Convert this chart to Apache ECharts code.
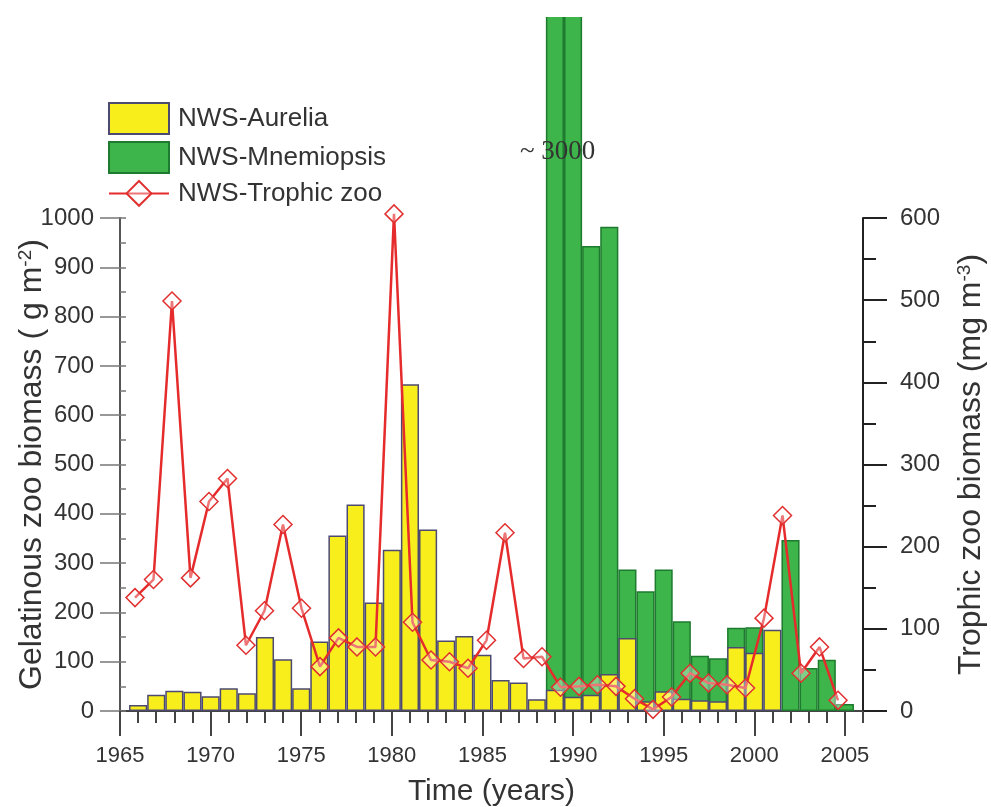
<!DOCTYPE html>
<html>
<head>
<meta charset="utf-8">
<script src="https://cdn.jsdelivr.net/npm/echarts@6/dist/echarts.min.js"></script>
<style>
html,body{margin:0;padding:0;background:#fff;}
#c{position:absolute;left:0;top:17px;width:991px;height:790px;}
</style>
</head>
<body>
<div id="c"></div>
<script>
// ---- data ----
const years = [1966,1967,1968,1969,1970,1971,1972,1973,1974,1975,1976,1977,1978,1979,1980,
  1981,1982,1983,1984,1985,1986,1987,1988,1989,1990,1991,1992,1993,1994,1995,1996,1997,1998,1999,2000,
  2001,2002,2003,2004,2005];
// NWS-Aurelia (g m-2)
const aurelia = [12,33,41,39,30,46,36,150,105,46,141,356,419,220,327,
  663,368,143,152,114,63,58,24,43,29,33,75,148,20,40,25,22,20,130,118,
  165,null,null,null,null];
// NWS-Mnemiopsis (g m-2); 1989-1990 are off the scale (~3000)
const mnemiopsis = [null,null,null,null,null,null,null,null,null,null,null,null,null,null,null,
  null,null,null,null,null,null,null,null,3000,3000,943,982,287,243,287,182,112,107,169,170,
  null,347,87,104,14];
// NWS-Trophic zoo (mg m-3)
const trophicYears = [1966,1967,1968,1969,1970,1971,1972,1973,1974,1975,1976,1977,1978,1979,1980,
  1981,1982,1983,1984,1985,1986,1987,1988,1989,1990,1991,1992,1993,1994,1995,1996,1997,1998,1999,2000,
  2001,2002,2003,2004];
const trophic = [138,160,499,162,255,283,80,122,227,125,54,89,78,78,605,
  108,62,60,52,86,217,64,66,29,30,32,30,15,2,17,46,34,32,28,113,
  238,46,78,13];
const leftTicks = {min:0, max:1000, step:100};
const rightTicks = {min:0, max:600, step:100};
const xTicks = {min:1965, max:2006, step:5};

const FONT = '"Liberation Sans", Arial, sans-serif';
const chart = echarts.init(document.getElementById('c'));
const plain = v => String(v);
const xLabelStyle = {fontSize:22, color:'#333', fontFamily:FONT, formatter:plain};
const yLabelStyle = {fontSize:24, color:'#333', fontFamily:FONT, formatter:plain};
const nameStyle = {fontSize:30, color:'#333', fontFamily:FONT};
const vNameStyle = {fontSize:32, color:'#333', fontFamily:FONT,
  rich:{sup:{fontSize:19, color:'#333', fontFamily:FONT, verticalAlign:'top'}}};

chart.setOption({
  animation:false,
  legend:{
    orient:'vertical', left:103, top:80,
    itemWidth:60, itemHeight:31, itemGap:6,
    textStyle:{fontSize:26, color:'#333', fontFamily:FONT, padding:[0,0,0,4]},
    data:[{name:'NWS-Aurelia', icon:'rect'},{name:'NWS-Mnemiopsis', icon:'rect'},{name:'NWS-Trophic zoo'}]
  },
  grid:{left:120, right:128, top:201, bottom:96, containLabel:false, outerBoundsMode:'none'},
  xAxis:[
    {type:'value', min:xTicks.min, max:xTicks.max, interval:xTicks.step, position:'bottom',
     axisLine:{lineStyle:{color:'#444', width:2}},
     axisTick:{length:25, lineStyle:{color:'#444', width:2}},
     axisLabel:{margin:34, showMaxLabel:false, ...xLabelStyle},
     splitLine:{show:false},
     name:'Time (years)', nameLocation:'middle', nameGap:66, nameTextStyle:nameStyle},
    {type:'value', min:xTicks.min, max:xTicks.max, interval:1, position:'bottom',
     axisLine:{show:false},
     axisTick:{length:12, lineStyle:{color:'#444', width:2}},
     axisLabel:{show:false}, splitLine:{show:false}},
    {type:'value', min:1965.19, max:2005.35, show:false}
  ],
  yAxis:[
    {type:'value', min:leftTicks.min, max:leftTicks.max, interval:leftTicks.step, position:'left',
     axisLine:{show:true, lineStyle:{color:'#555', width:2}},
     axisTick:{show:true, length:20, lineStyle:{color:'#777', width:1.5}},
     axisLabel:{margin:26, ...yLabelStyle},
     splitLine:{show:false},
     name:'Gelatinous zoo biomass ( g m{sup|-2})', nameLocation:'middle', nameRotate:90, nameGap:72,
     nameMoveOverlap:false,
     nameTextStyle:vNameStyle},
    {type:'value', min:rightTicks.min, max:rightTicks.max, interval:rightTicks.step, position:'right',
     axisLine:{show:true, lineStyle:{color:'#222', width:2}},
     axisTick:{show:true, length:24, lineStyle:{color:'#222', width:2}},
     minorTick:{show:true, splitNumber:2, length:13, lineStyle:{color:'#222', width:2}},
     axisLabel:{margin:37, ...yLabelStyle},
     splitLine:{show:false},
     name:'Trophic zoo biomass (mg m{sup|-3})', nameLocation:'middle', nameRotate:90, nameGap:92,
     nameMoveOverlap:false,
     nameTextStyle:vNameStyle},
    {type:'value', min:leftTicks.min, max:leftTicks.max, interval:leftTicks.step/2, position:'left',
     axisLine:{show:false}, axisTick:{show:true, inside:true, length:6, lineStyle:{color:'#777', width:1.5}},
     axisLabel:{show:false}, splitLine:{show:false}}
  ],
  graphic:[{type:'text', left:520, top:121, z:100,
    style:{text:'~ 3000', font:'27px "Liberation Serif", serif', fill:'#333'}}],
  series:[
    {name:'NWS-Mnemiopsis', type:'bar', xAxisIndex:0, yAxisIndex:0, clip:false,
     data:years.map((y,i)=>[y, mnemiopsis[i]]),
     barWidth:'100%', barGap:'-100%',
     itemStyle:{color:'#3db54a', borderColor:'#1e7a2e', borderWidth:1.5}},
    {name:'NWS-Aurelia', type:'bar', xAxisIndex:0, yAxisIndex:0, clip:false,
     data:years.map((y,i)=>[y, aurelia[i]]),
     barWidth:'100%', barGap:'-100%',
     itemStyle:{color:'#f8ee1c', borderColor:'#4d4a72', borderWidth:1.5}},
    {name:'NWS-Trophic zoo', type:'line', xAxisIndex:2, yAxisIndex:1, z:5, clip:false,
     data:trophicYears.map((y,i)=>[y, trophic[i]]),
     symbol:'diamond', symbolSize:18,
     lineStyle:{color:'#e52b2b', width:2.5},
     itemStyle:{color:'rgba(255,255,255,0.35)', borderColor:'#e03030', borderWidth:1.5}}
  ]
});
</script>
</body>
</html>
